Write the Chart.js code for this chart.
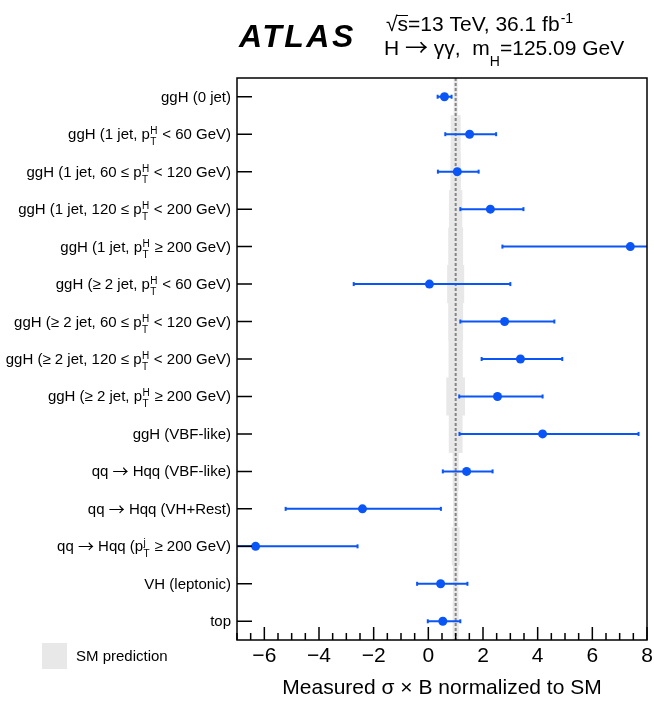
<!DOCTYPE html>
<html>
<head>
<meta charset="utf-8">
<script src="https://cdn.jsdelivr.net/npm/chart.js@4.4.1/dist/chart.umd.min.js"></script>
<style>
  html, body { margin: 0; padding: 0; background: #fff; }
  #wrap { width: 654px; height: 702px; }
</style>
</head>
<body>
<div id="wrap"><canvas id="xsChart" width="654" height="702"></canvas></div>
<script>
// categories, top to bottom ("p_T^H" = p with sub T / sup H)
const categories = [
  'ggH (0 jet)',
  'ggH (1 jet, p_T^H < 60 GeV)',
  'ggH (1 jet, 60 \u2264 p_T^H < 120 GeV)',
  'ggH (1 jet, 120 \u2264 p_T^H < 200 GeV)',
  'ggH (1 jet, p_T^H \u2265 200 GeV)',
  'ggH (\u2265 2 jet, p_T^H < 60 GeV)',
  'ggH (\u2265 2 jet, 60 \u2264 p_T^H < 120 GeV)',
  'ggH (\u2265 2 jet, 120 \u2264 p_T^H < 200 GeV)',
  'ggH (\u2265 2 jet, p_T^H \u2265 200 GeV)',
  'ggH (VBF-like)',
  'qq \u2192 Hqq (VBF-like)',
  'qq \u2192 Hqq (VH+Rest)',
  'qq \u2192 Hqq (p_T^j \u2265 200 GeV)',
  'VH (leptonic)',
  'top'
];

// measured sigma x B / SM and the ends of its error bar
const measured = [0.59, 1.51, 1.06, 2.27, 7.39, 0.04, 2.79, 3.37, 2.53, 4.18, 1.40, -2.41, -6.32, 0.45, 0.53];
const errLow   = [0.34, 0.62, 0.35, 1.17, 2.71, -2.73, 1.17, 1.95, 1.13, 1.14, 0.53, -5.22, -9.60, -0.41, -0.02];
const errHigh  = [0.85, 2.48, 1.84, 3.48, 9.80, 3.00, 4.61, 4.90, 4.18, 7.69, 2.35, 0.46, -2.59, 1.43, 1.17];

// SM prediction band
const smLow  = [0.94, 0.83, 0.82, 0.77, 0.74, 0.70, 0.74, 0.75, 0.67, 0.76, 0.90, 0.92, 0.87, 0.91, 0.90];
const smHigh = [1.06, 1.17, 1.18, 1.23, 1.26, 1.30, 1.26, 1.25, 1.33, 1.24, 1.10, 1.08, 1.13, 1.09, 1.10];

const xTicks = [-6, -4, -2, 0, 2, 4, 6, 8];

const BLUE = '#0a55f5';
const FONT = "'Liberation Sans', Arial, Helvetica, sans-serif";
const ARROW_FONT = "'Noto Sans CJK JP', 'DejaVu Sans', sans-serif";
Chart.defaults.font.family = FONT;
Chart.defaults.color = '#000';

function fmtTick(v) {
  return v < 0 ? '\u2212' + (-v) : String(v);
}

// draws a label with p_X^Y pieces and arrows, right aligned at x
function drawRichLabel(ctx, text, xRight, yBase) {
  const parts = text.split(/(p_\w\^\w|\u2192)/).filter(s => s.length);
  const big = '15px ' + FONT;
  const small = '10px ' + FONT;
  const arrow = '16px ' + ARROW_FONT;
  const items = [];
  let total = 0;
  parts.forEach(p => {
    let it;
    if (p === '\u2192') {
      ctx.font = arrow;
      it = { kind: 'arrow', t: p, w: ctx.measureText(p).width };
    } else if (/^p_\w\^\w$/.test(p)) {
      ctx.font = big;
      const pw = ctx.measureText('p').width;
      ctx.font = small;
      const sub = p[2], sup = p[4];
      const sw = Math.max(ctx.measureText(sub).width, ctx.measureText(sup).width);
      it = { kind: 'pt', sub: sub, sup: sup, pw: pw, w: pw + sw + 1 };
    } else {
      ctx.font = big;
      it = { kind: 'text', t: p, w: ctx.measureText(p).width };
    }
    items.push(it);
    total += it.w;
  });
  let x = xRight - total;
  ctx.textAlign = 'left';
  ctx.textBaseline = 'alphabetic';
  items.forEach(it => {
    if (it.kind === 'pt') {
      ctx.font = big;
      ctx.fillText('p', x, yBase);
      ctx.font = small;
      ctx.fillText(it.sup, x + it.pw + 0.5, yBase - 5);
      ctx.fillText(it.sub, x + it.pw + 0.5, yBase + 6);
    } else if (it.kind === 'arrow') {
      ctx.font = arrow;
      ctx.fillText(it.t, x, yBase + 1);
    } else {
      ctx.font = big;
      ctx.fillText(it.t, x, yBase);
    }
    x += it.w;
  });
}

const decor = {
  id: 'decor',
  beforeDatasetDraw(chart, args) {
    if (args.index !== 0) return;
    const { ctx, chartArea: a, scales: { x, y } } = chart;
    ctx.save();
    ctx.beginPath();
    ctx.rect(a.left, a.top, a.right - a.left, a.bottom - a.top);
    ctx.clip();
    // SM = 1 dashed line
    const x1 = x.getPixelForValue(1);
    ctx.strokeStyle = '#858585';
    ctx.lineWidth = 2;
    ctx.setLineDash([3, 2]);
    ctx.beginPath();
    ctx.moveTo(x1, a.top);
    ctx.lineTo(x1, a.bottom);
    ctx.stroke();
    ctx.setLineDash([]);
    // error bars
    ctx.strokeStyle = BLUE;
    ctx.fillStyle = BLUE;
    ctx.lineWidth = 2;
    categories.forEach((c, i) => {
      const yy = y.getPixelForValue(i);
      const xl = x.getPixelForValue(errLow[i]);
      const xh = x.getPixelForValue(errHigh[i]);
      ctx.beginPath();
      ctx.moveTo(xl, yy);
      ctx.lineTo(xh, yy);
      ctx.stroke();
      ctx.fillRect(xl - 1, yy - 2, 2, 4);
      ctx.fillRect(xh - 1, yy - 2, 2, 4);
    });
    ctx.restore();
  },
  afterDraw(chart) {
    const { ctx, chartArea: a, scales: { x, y } } = chart;
    ctx.save();
    ctx.strokeStyle = '#000';
    ctx.lineWidth = 1.5;
    ctx.strokeRect(a.left, a.top, a.right - a.left, a.bottom - a.top);
    // x ticks, inward
    ctx.beginPath();
    for (let v = -7; v <= 8.001; v += 0.5) {
      const px = x.getPixelForValue(v);
      const len = xTicks.includes(v) ? 13 : 7;
      ctx.moveTo(px, a.bottom);
      ctx.lineTo(px, a.bottom - len);
    }
    // y ticks, inward
    categories.forEach((c, i) => {
      const py = y.getPixelForValue(i);
      ctx.moveTo(a.left, py);
      ctx.lineTo(a.left + 15, py);
    });
    ctx.stroke();
    // category labels
    ctx.fillStyle = '#000';
    categories.forEach((c, i) => {
      drawRichLabel(ctx, c, a.left - 6, y.getPixelForValue(i) + 5);
    });
    // ATLAS header
    ctx.textAlign = 'left';
    ctx.textBaseline = 'alphabetic';
    ctx.font = 'italic bold 32px ' + FONT;
    if ('letterSpacing' in ctx) ctx.letterSpacing = '2.5px';
    ctx.fillText('ATLAS', 239, 47);
    if ('letterSpacing' in ctx) ctx.letterSpacing = '0px';
    ctx.font = '21px ' + FONT;
    ctx.fillText('\u221A', 386, 31);
    const rw = ctx.measureText('\u221A').width;
    const sw = ctx.measureText('s').width;
    ctx.fillText('s=13 TeV, 36.1 fb', 386 + rw, 31);
    ctx.lineWidth = 1;
    ctx.beginPath();
    ctx.moveTo(386 + rw - 1, 15.5);
    ctx.lineTo(386 + rw + sw, 15.5);
    ctx.stroke();
    const w1 = ctx.measureText('s=13 TeV, 36.1 fb').width;
    ctx.font = '14px ' + FONT;
    ctx.fillText('-1', 386 + rw + w1 + 1, 23);
    // second header line
    let hx = 384;
    ctx.font = '21px ' + FONT;
    ctx.fillText('H ', hx, 55);
    hx += ctx.measureText('H ').width;
    ctx.font = '23px ' + ARROW_FONT;
    ctx.fillText('\u2192', hx, 56);
    hx += ctx.measureText('\u2192').width;
    ctx.font = '21px ' + FONT;
    const l2a = ' \u03B3\u03B3,  m';
    ctx.fillText(l2a, hx, 55);
    hx += ctx.measureText(l2a).width;
    ctx.font = '14px ' + FONT;
    ctx.fillText('H', hx, 66);
    hx += ctx.measureText('H').width;
    ctx.font = '21px ' + FONT;
    ctx.fillText('=125.09 GeV', hx, 55);
    // legend
    ctx.fillStyle = '#e8e8e8';
    ctx.fillRect(42, 643, 25, 26);
    ctx.fillStyle = '#000';
    ctx.font = '15px ' + FONT;
    ctx.fillText('SM prediction', 76, 661);
    ctx.restore();
  }
};

const ctx = document.getElementById('xsChart').getContext('2d');
new Chart(ctx, {
  type: 'bar',
  data: {
    labels: categories,
    datasets: [
      {
        type: 'line',
        label: 'Measured',
        data: measured,
        showLine: false,
        pointRadius: 4.5,
        pointBackgroundColor: BLUE,
        pointBorderWidth: 0,
        order: 0
      },
      {
        type: 'bar',
        label: 'SM prediction',
        data: smLow.map((v, i) => [v, smHigh[i]]),
        backgroundColor: '#e8e8e8',
        barPercentage: 1,
        categoryPercentage: 1,
        order: 1
      }
    ]
  },
  options: {
    indexAxis: 'y',
    responsive: false,
    animation: false,
    layout: { padding: { top: 78, right: 7, left: 0, bottom: 0 } },
    plugins: { legend: { display: false }, tooltip: { enabled: false } },
    scales: {
      x: {
        type: 'linear',
        min: -7,
        max: 8,
        grid: { display: false, drawTicks: false },
        border: { display: false },
        afterBuildTicks: s => { s.ticks = xTicks.map(v => ({ value: v })); },
        ticks: { font: { size: 21 }, color: '#000', padding: 4, maxRotation: 0, callback: v => fmtTick(v) },
        title: { display: true, text: 'Measured \u03C3 \u00D7 B normalized to SM', font: { size: 21 }, color: '#000', padding: { top: 0, bottom: 1 } },
        afterFit: s => { s.height = 62; s.paddingLeft = 0; s.paddingRight = 0; }
      },
      y: {
        type: 'category',
        offset: true,
        grid: { display: false, drawTicks: false },
        border: { display: false },
        ticks: { display: false },
        afterFit: s => { s.width = 237; }
      }
    }
  },
  plugins: [decor]
});
</script>
</body>
</html>
